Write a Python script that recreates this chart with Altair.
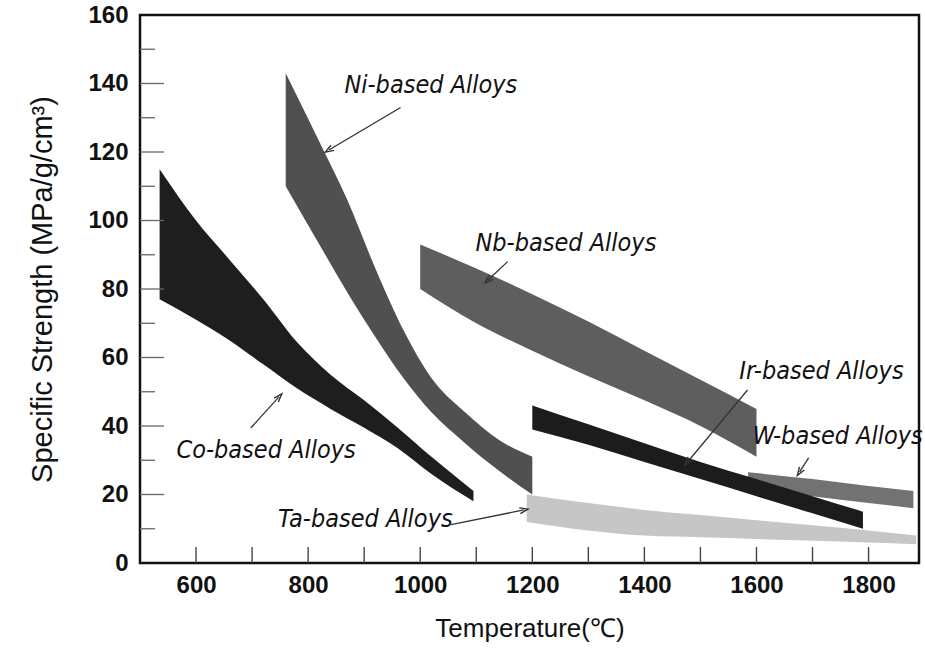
import altair as alt
import numpy as np
import pandas as pd

# ---- band data: temperature (deg C) with upper / lower specific strength ----
co_t = [535, 600, 660, 720, 780, 840, 900, 960, 1020, 1095]
co_hi = [115, 100, 88.5, 77, 64.5, 55, 47.5, 39.5, 31, 21]
co_lo = [77, 71, 65, 58, 51, 45, 39.5, 33.5, 26, 18]

ni_t = [760, 820, 870, 920, 970, 1020, 1080, 1140, 1200]
ni_hi = [143, 123, 106, 86, 68, 54, 44, 36, 31]
ni_lo = [110, 93, 79, 66, 54, 44, 35, 27, 20]

nb_t = [1000, 1100, 1200, 1300, 1400, 1500, 1600]
nb_hi = [93, 86, 78.5, 70.5, 62, 53.5, 45]
nb_lo = [80, 70, 62, 54.5, 47.5, 40, 31]

ir_t = [1200, 1300, 1400, 1500, 1600, 1700, 1790]
ir_hi = [46, 40.5, 35, 29.5, 24.5, 19.5, 15]
ir_lo = [39, 34.5, 29.5, 24.5, 19.5, 14.5, 10]

w_t = [1585, 1700, 1800, 1880]
w_hi = [26.5, 24.5, 22.5, 21]
w_lo = [22, 19.5, 17.5, 16]

ta_t = [1190, 1300, 1400, 1500, 1600, 1700, 1800, 1885]
ta_hi = [20, 17.5, 15.5, 14, 12.5, 11, 9.5, 8]
ta_lo = [12, 9.5, 8, 7.5, 7, 6.5, 6, 5.5]

# ---- annotation text and arrows (data coordinates) ----
label_text = ["Ni-based Alloys", "Nb-based Alloys", "Co-based Alloys",
              "Ta-based Alloys", "Ir-based Alloys", "W-based Alloys"]
label_t = [1019, 1260, 725, 902, 1716, 1745]
label_v = [139.5, 93.5, 33, 12.8, 56, 37]

arrow_t0 = [965, 1156, 698, 1055, 1584, 1693]
arrow_v0 = [133, 88, 39.5, 11.2, 50.5, 30.7]
arrow_t1 = [837, 1121, 748, 1185, 1477, 1677]
arrow_v1 = [120.6, 82.6, 48.5, 15.5, 29.5, 26.6]

x_ticks = [600, 800, 1000, 1200, 1400, 1600, 1800]
x_minor = list(range(600, 1801, 100))
y_ticks = [0, 20, 40, 60, 80, 100, 120, 140, 160]
y_minor = list(range(10, 151, 10))

T_DOMAIN = [500, 1890]
V_DOMAIN = [0, 160]
W, H = 779, 548

LABEL_FONT = "DejaVu Sans Condensed, Liberation Sans, sans-serif"
TICK_FONT = "Liberation Sans, Arial, sans-serif"
TITLE_FONT = "Liberation Sans, Arial, sans-serif"

xs = alt.Scale(domain=T_DOMAIN, nice=False, zero=False)
ys = alt.Scale(domain=V_DOMAIN, nice=False)

x_axis = alt.Axis(values=x_ticks, format="d", title="Temperature(℃)", grid=False,
                  domain=False, ticks=False, labelPadding=10,
                  labelFont=TICK_FONT, labelFontSize=24, labelFontWeight="bold",
                  labelColor="#111", titleFont=TITLE_FONT, titleFontSize=26,
                  titleFontWeight="normal", titleColor="#111", titlePadding=18)
y_axis = alt.Axis(values=y_ticks, format="d", title="Specific Strength (MPa/g/cm³)",
                  grid=False, domain=False, ticks=False, labelPadding=12,
                  labelFont=TICK_FONT, labelFontSize=24, labelFontWeight="bold",
                  labelColor="#111", titleFont=TITLE_FONT, titleFontSize=29,
                  titleFontWeight="normal", titleColor="#111", titlePadding=30)

bands = [
    ("Ta", ta_t, ta_hi, ta_lo, "#c6c6c6"),
    ("W", w_t, w_hi, w_lo, "#727272"),
    ("Ir", ir_t, ir_hi, ir_lo, "#1c1c1c"),
    ("Nb", nb_t, nb_hi, nb_lo, "#5e5e5e"),
    ("Ni", ni_t, ni_hi, ni_lo, "#505050"),
    ("Co", co_t, co_hi, co_lo, "#1e1e1e"),
]

layers = []
for i, (name, t, hi, lo, col) in enumerate(bands):
    df = pd.DataFrame({"T": t, "hi": hi, "lo": lo})
    if i == 0:
        x_enc = alt.X("T:Q", scale=xs, axis=x_axis)
        y_enc = alt.Y("hi:Q", scale=ys, axis=y_axis)
    else:
        x_enc = alt.X("T:Q", scale=xs)
        y_enc = alt.Y("hi:Q", scale=ys)
    layers.append(
        alt.Chart(df).mark_area(color=col, opacity=1, interpolate="monotone").encode(
            x=x_enc, y=y_enc, y2="lo:Q"
        )
    )

# inward axis ticks
for length, vals in ((24, [v for v in y_minor if v % 20 == 0]),
                     (15, [v for v in y_minor if v % 20])):
    layers.append(
        alt.Chart(pd.DataFrame({"v": vals})).mark_rule(color="#666", strokeWidth=1.3).encode(
            y=alt.Y("v:Q", scale=ys), x=alt.value(0), x2=alt.value(length)
        )
    )
layers.append(
    alt.Chart(pd.DataFrame({"T": x_minor})).mark_rule(color="#444", strokeWidth=1.4).encode(
        x=alt.X("T:Q", scale=xs), y=alt.value(H), y2=alt.value(H - 16)
    )
)

# arrows
px_per_t = W / (T_DOMAIN[1] - T_DOMAIN[0])
px_per_v = H / (V_DOMAIN[1] - V_DOMAIN[0])
dx = (np.array(arrow_t1) - np.array(arrow_t0)) * px_per_t
dy = -(np.array(arrow_v1) - np.array(arrow_v0)) * px_per_v
ang = np.mod(np.degrees(np.arctan2(dx, -dy)), 360)
arr = pd.DataFrame({"t0": arrow_t0, "v0": arrow_v0, "t1": arrow_t1, "v1": arrow_v1, "ang": ang})

layers.append(
    alt.Chart(arr).mark_rule(color="#333", strokeWidth=1.3).encode(
        x=alt.X("t0:Q", scale=xs), y=alt.Y("v0:Q", scale=ys), x2="t1:Q", y2="v1:Q"
    )
)
layers.append(
    alt.Chart(arr).mark_point(shape="M-0.7,1L0,-1L0.7,1", filled=False, color="#333",
                              size=70, strokeWidth=1.4, opacity=1).encode(
        x=alt.X("t1:Q", scale=xs), y=alt.Y("v1:Q", scale=ys),
        angle=alt.Angle("ang:Q", scale=None)
    )
)

# alloy labels
lab = pd.DataFrame({"text": label_text, "T": label_t, "v": label_v})
layers.append(
    alt.Chart(lab).mark_text(font=LABEL_FONT, fontSize=25, fontStyle="italic",
                             color="#111", align="center", baseline="middle").encode(
        x=alt.X("T:Q", scale=xs), y=alt.Y("v:Q", scale=ys), text="text:N"
    )
)

chart = alt.layer(*layers).properties(
    width=W, height=H,
    padding={"left": 140, "top": 15, "right": 6, "bottom": 93},
    autosize=alt.AutoSizeParams(type="none"),
).configure(background="white").configure_view(stroke="#111", strokeWidth=2.5)

chart.save("out.html", embed_options={"renderer": "svg", "actions": False})
